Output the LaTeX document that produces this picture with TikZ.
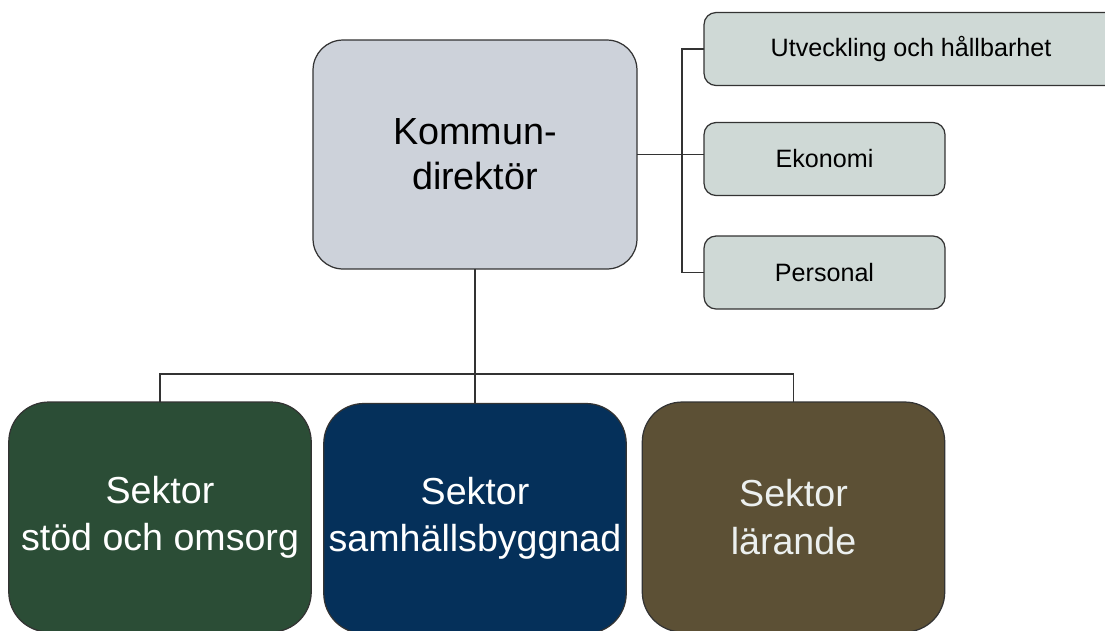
\documentclass[tikz,border=0pt]{standalone}
\usepackage{fontspec}
\setmainfont{Liberation Sans}
\definecolor{chefgrey}{HTML}{CDD2DA}
\definecolor{stabgrey}{HTML}{CFD9D6}
\definecolor{sektorgreen}{HTML}{2B4D36}
\definecolor{sektorblue}{HTML}{05305A}
\definecolor{sektorbrown}{HTML}{5C5035}
\definecolor{linegrey}{HTML}{333333}
\begin{document}
\begin{tikzpicture}[x=0.02cm,y=-0.02cm,inner sep=0pt,outer sep=0pt,
chef/.style={draw=linegrey,fill=chefgrey,rectangle,rounded corners=0.6cm,line width=0.7pt,minimum width=6.48cm,minimum height=4.58cm,align=center,font=\fontsize{21.5}{25.5}\selectfont},
stab/.style={draw=linegrey,fill=stabgrey,rectangle,rounded corners=0.24cm,line width=0.7pt,minimum height=1.46cm,align=center,font=\fontsize{14.3}{17}\selectfont},
sektor/.style={draw=linegrey,rectangle,rounded corners=0.8cm,line width=0.7pt,minimum width=6.05cm,minimum height=4.6cm,align=center,text=white,font=\fontsize{21.4}{27}\selectfont},
link/.style={draw=linegrey,line width=0.7pt}]

\clip (0,0) rectangle (1105,630);
\fill[white] (0,0) rectangle (1105,630);

\draw (475,154.5) node[chef] (kd) {Kommun-\\direktör};

\draw (911,49) node[stab,minimum width=8.28cm] (utv) {Utveckling och hållbarhet};
\draw (824.5,159) node[stab,minimum width=4.82cm] (eko) {Ekonomi};
\draw (824.5,272.5) node[stab,minimum width=4.82cm] (pers) {Personal};

\draw (160,517) node[sektor,fill=sektorgreen] (sso) {Sektor\\stöd och omsorg};
\draw (475,518.5) node[sektor,fill=sektorblue] (ssb) {Sektor\\samhällsbyggnad};
\draw (793.5,517) node[sektor,fill=sektorbrown,text=stabgrey!40!white] (sl) {Sektor\\lärande};

\draw[link] (kd.east) -- (eko.west |- kd.east);
\draw[link] (utv.west) -- ++(-22,0) |- (pers.west);
\draw[link] (kd.south) -- (ssb.north);
\draw[link] (sso.north) -- ++(0,-28) -| (sl.north);
\end{tikzpicture}
\end{document}
